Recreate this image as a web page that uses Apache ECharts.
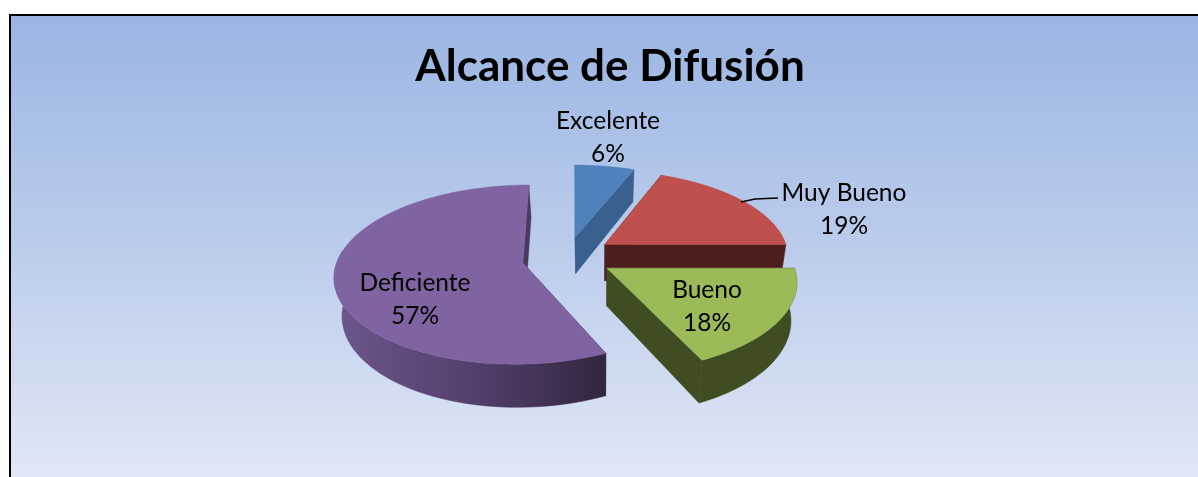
<!DOCTYPE html>
<html><head><meta charset="utf-8">
<style>html,body{margin:0;padding:0;background:#fff}#c{width:1198px;height:477px}</style>
<script src="https://cdn.jsdelivr.net/npm/echarts@6/dist/echarts.min.js"></script>
</head><body><div id="c"></div>
<script>
const titleText = 'Alcance de Difusión';
const categories = ['Excelente', 'Muy Bueno', 'Bueno', 'Deficiente'];
const percents = [6, 19, 18, 57];

// colours
const topColors = ['#4f81bd', '#c0504d', '#9bbb59', '#8064a2'];
const rimColors = ['#3a6090', '#4c1f1e', '#404c21', '#4a3a60'];

// perspective layout of the pie
const CX = 575, CY = 255, RX = 184, RY = 86, PERSP = 0.13, DEPTH = 37, CONV = 0.03, VX = 600;
const sliceOffsets = [[0, 0.21], [0.165, 0.125], [0.17, -0.15], [-0.28, -0.09]];
const labelAnchors = [[608, 138], [844, 210], [707, 307], [415, 300]];
const leader = [[741, 202], [755, 199], [778, 198]];

function project(X, Y, z) {
  const w = 1 + PERSP * Y;
  let x = CX + RX * X / w;
  const y = CY - RY * Y / w + DEPTH * z / w;
  x = VX + (x - VX) * (1 - CONV * z);
  return [x, y];
}
const total = percents.reduce((a, b) => a + b, 0);
function sliceAngles(i) {
  let s = 0;
  for (let k = 0; k < i; k++) s += percents[k];
  return [s / total * 360, (s + percents[i]) / total * 360];
}
function rimPoint(i, deg, z) {
  const a = deg * Math.PI / 180, o = sliceOffsets[i];
  return project(o[0] + Math.sin(a), o[1] + Math.cos(a), z);
}
function apex(i, z) { const o = sliceOffsets[i]; return project(o[0], o[1], z); }
function arc(i, a0, a1, z) {
  const pts = [], n = Math.max(2, Math.ceil(Math.abs(a1 - a0) / 2));
  for (let k = 0; k <= n; k++) pts.push(rimPoint(i, a0 + (a1 - a0) * k / n, z));
  return pts;
}
function poly(points, fill) {
  return { type: 'polygon', silent: true, shape: { points }, style: { fill, stroke: fill, lineWidth: 0.5 } };
}
function renderSlice(params) {
  const i = params.dataIndex, [a0, a1] = sliceAngles(i), children = [];
  // radial walls
  [a0, a1].forEach(function (d) {
    children.push(poly([apex(i, 0), rimPoint(i, d, 0), rimPoint(i, d, 1), apex(i, 1)], rimColors[i]));
  });
  // outer wall, only the part that faces the viewer
  const f0 = Math.max(a0, 90), f1 = Math.min(a1, 278);
  if (f1 > f0) {
    const fill = i === 3
      ? new echarts.graphic.LinearGradient(0, 0, 1, 0, [
          { offset: 0, color: '#6d568c' }, { offset: 0.5, color: '#54406e' }, { offset: 1, color: '#33263f' }])
      : rimColors[i];
    children.push(poly(arc(i, f0, f1, 0).concat(arc(i, f1, f0, 1)), fill));
  }
  // top face
  children.push(poly([apex(i, 0)].concat(arc(i, a0, a1, 0)), topColors[i]));
  // label
  children.push({
    type: 'text', silent: true, z2: 10,
    style: {
      text: categories[i] + '\n' + percents[i] + '%', x: labelAnchors[i][0], y: labelAnchors[i][1],
      align: 'center', verticalAlign: 'middle', fill: '#000', lineHeight: 33,
      font: '24.5px Lato, "Open Sans", sans-serif'
    }
  });
  if (i === 1) children.push({
    type: 'polyline', silent: true, z2: 10, shape: { points: leader },
    style: { stroke: '#000', lineWidth: 1.4, fill: null }
  });
  return { type: 'group', children };
}
const chart = echarts.init(document.getElementById('c'), null, { renderer: 'canvas' });
chart.setOption({
  animation: false,
  title: {
    text: titleText, left: 605, top: 40, textAlign: 'center',
    textStyle: { fontFamily: 'Lato, "Open Sans", sans-serif', fontWeight: 'bold', fontSize: 44, color: '#000' }
  },
  graphic: [{
    type: 'rect', z: -10, silent: true,
    shape: { x: 10, y: 15, width: 1200, height: 470 },
    style: {
      fill: new echarts.graphic.LinearGradient(0, 0, 0, 1, [
        { offset: 0, color: '#9ab5e3' }, { offset: 0.5, color: '#bccdec' }, { offset: 1, color: '#e1e8f6' }]),
      stroke: '#000', lineWidth: 2
    }
  }],
  series: [{
    type: 'custom', coordinateSystem: 'none', silent: true,
    renderItem: renderSlice,
    data: percents.map((v, i) => ({ name: categories[i], value: v }))
  }]
});
</script></body></html>
